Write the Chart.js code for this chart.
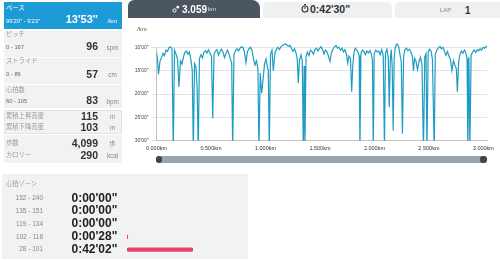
<!DOCTYPE html>
<html lang="ja">
<head>
<meta charset="utf-8">
<script src="https://cdn.jsdelivr.net/npm/chart.js@4/dist/chart.umd.min.js"></script>
<style>
  body { margin: 0; width: 500px; height: 261px; position: relative; overflow: hidden; background: #fff;
         font-family: "Liberation Sans", Arial, "Noto Sans CJK JP", sans-serif; }
  .box { position: absolute; }
  .t { position: absolute; white-space: nowrap; }
  canvas { position: absolute; }
</style>
</head>
<body>
<!-- left summary panel -->
<div class="box" style="left:4px;top:2px;width:118px;height:27px;background:#1d9bd7"></div>
<div class="box" style="left:4px;top:31px;width:118px;height:26px;background:#f1f2f4"></div>
<div class="box" style="left:4px;top:58px;width:118px;height:26px;background:#f1f2f4"></div>
<div class="box" style="left:4px;top:85px;width:118px;height:23px;background:#f1f2f4"></div>
<div class="box" style="left:4px;top:110px;width:116px;height:22px;background:#f1f2f4;border:1px solid #e0e3e7"></div>
<div class="box" style="left:4px;top:135px;width:118px;height:28px;background:#f1f2f4"></div>

<!-- tabs -->
<div class="box" style="left:128px;top:0;width:132px;height:18px;background:#4b5661;border-radius:6px 8px 0 0"></div>
<div class="box" style="left:263px;top:2px;width:129px;height:16px;background:#eef0f2;border-radius:5px 6px 0 0"></div>
<div class="box" style="left:395px;top:2px;width:105px;height:16px;background:#eef0f2;border-radius:5px 0 0 0"></div>
<svg class="box" style="left:172px;top:5px" width="8" height="8" viewBox="0 0 8 8">
  <circle cx="2.5" cy="5.5" r="1.6" fill="none" stroke="#fff" stroke-width="1"/>
  <circle cx="5.8" cy="2.2" r="1.4" fill="#fff"/>
</svg>
<svg class="box" style="left:301px;top:4px" width="8" height="9" viewBox="0 0 8 9">
  <rect x="3" y="0" width="2" height="1.2" fill="#333"/>
  <circle cx="4" cy="5" r="3" fill="none" stroke="#333" stroke-width="1.1"/>
  <line x1="4" y1="5" x2="4" y2="3" stroke="#333" stroke-width="1"/>
</svg>

<!-- heart rate zone panel -->
<div class="box" style="left:2px;top:174px;width:246px;height:85px;background:#f1f2f4"></div>

<canvas id="pace" width="372" height="122" style="left:128px;top:38px"></canvas>

<!-- range slider under the chart -->
<div class="box" style="left:156px;top:156px;width:331px;height:6.5px;background:#9aa4ad;border-radius:3px"></div>
<div class="box" style="left:155.5px;top:156px;width:6.5px;height:6.5px;background:#3d4650;border-radius:50%"></div>
<div class="box" style="left:480px;top:156px;width:6.5px;height:6.5px;background:#3d4650;border-radius:50%"></div>

<canvas id="zones" width="66" height="64" style="left:127px;top:192px"></canvas>

<script>
const distKm = [
  0.000, 0.009, 0.018, 0.032, 0.046, 0.060, 0.073, 0.087, 0.101, 0.115, 0.128, 0.142, 0.154, 0.165, 0.179, 0.193,
  0.206, 0.220, 0.234, 0.248, 0.261, 0.275, 0.289, 0.303, 0.316, 0.328, 0.338, 0.349, 0.362, 0.373, 0.383, 0.394,
  0.408, 0.422, 0.436, 0.450, 0.463, 0.477, 0.491, 0.505, 0.516, 0.528, 0.541, 0.555, 0.569, 0.583, 0.596, 0.610,
  0.624, 0.638, 0.651, 0.665, 0.679, 0.690, 0.699, 0.711, 0.725, 0.739, 0.752, 0.766, 0.780, 0.794, 0.807, 0.821,
  0.835, 0.849, 0.862, 0.876, 0.890, 0.904, 0.917, 0.931, 0.940, 0.952, 0.965, 0.977, 0.991, 1.005, 1.018, 1.026,
  1.035, 1.046, 1.060, 1.072, 1.087, 1.101, 1.115, 1.128, 1.142, 1.156, 1.170, 1.183, 1.197, 1.211, 1.225, 1.239,
  1.252, 1.266, 1.280, 1.292, 1.301, 1.312, 1.326, 1.338, 1.347, 1.355, 1.362, 1.372, 1.385, 1.399, 1.413, 1.427,
  1.440, 1.454, 1.468, 1.482, 1.495, 1.509, 1.523, 1.537, 1.550, 1.564, 1.578, 1.592, 1.606, 1.619, 1.633, 1.647,
  1.661, 1.674, 1.688, 1.702, 1.716, 1.729, 1.743, 1.755, 1.766, 1.780, 1.791, 1.801, 1.812, 1.824, 1.835, 1.849,
  1.860, 1.867, 1.876, 1.890, 1.904, 1.917, 1.931, 1.945, 1.959, 1.972, 1.982, 1.989, 1.998, 2.012, 2.026, 2.040,
  2.053, 2.067, 2.081, 2.092, 2.101, 2.115, 2.127, 2.136, 2.145, 2.154, 2.163, 2.172, 2.181, 2.190, 2.201, 2.210,
  2.222, 2.233, 2.246, 2.257, 2.268, 2.280, 2.293, 2.307, 2.321, 2.335, 2.349, 2.358, 2.369, 2.381, 2.395, 2.408,
  2.422, 2.436, 2.450, 2.462, 2.473, 2.482, 2.493, 2.505, 2.519, 2.532, 2.549, 2.558, 2.573, 2.587, 2.601, 2.615,
  2.628, 2.642, 2.656, 2.670, 2.683, 2.697, 2.711, 2.725, 2.738, 2.752, 2.761, 2.773, 2.784, 2.798, 2.812, 2.826,
  2.839, 2.850, 2.857, 2.867, 2.876, 2.887, 2.901, 2.915, 2.929, 2.943, 2.956, 2.970, 2.984, 2.998, 3.012, 3.026,
  3.033
];
const paceMin = [
  11.0, 12.5, 15.8, 13.0, 12.2, 11.3, 11.8, 10.6, 10.9, 10.1, 9.9, 10.3, 32, 10.6, 11.4, 12.6,
  18.5, 12.9, 13.6, 12.0, 11.1, 10.8, 11.5, 11.0, 12.8, 14.8, 32, 13.5, 14.2, 19.0, 32, 12.4,
  11.6, 12.3, 11.0, 10.7, 11.2, 10.5, 11.3, 12.0, 25.2, 11.5, 10.8, 10.5, 11.7, 10.9, 10.4, 11.0,
  12.2, 11.3, 10.6, 11.4, 12.6, 13.3, 32, 11.6, 10.7, 10.3, 10.8, 10.2, 9.9, 10.1, 11.0, 13.3,
  10.9, 10.3, 10.0, 10.6, 12.4, 13.8, 12.9, 14.6, 32, 15.5, 19.8, 17.2, 13.6, 12.5, 14.2, 15.0,
  32, 11.5, 10.6, 15.0, 11.2, 10.4, 10.0, 10.5, 9.9, 9.6, 9.4, 9.3, 9.5, 9.8, 9.6, 10.2,
  10.9, 10.3, 11.2, 12.5, 17.7, 12.8, 11.6, 13.0, 32, 14.0, 32, 12.0, 11.0, 11.8, 10.6, 10.9,
  11.5, 10.5, 10.2, 10.8, 10.3, 9.9, 10.4, 11.4, 10.6, 10.9, 11.9, 13.0, 11.1, 10.4, 9.9, 9.6,
  10.2, 10.0, 10.6, 10.2, 11.0, 10.5, 11.4, 13.4, 11.9, 12.4, 19.5, 14.0, 11.2, 10.2, 10.5, 11.0,
  11.8, 32, 11.3, 10.6, 10.9, 11.6, 10.8, 11.2, 10.7, 11.5, 12.8, 32, 11.4, 10.6, 11.0, 10.8,
  11.6, 10.5, 11.9, 32, 11.2, 10.4, 12.3, 22.8, 13.0, 10.5, 14.2, 27.8, 12.5, 10.2, 9.4, 9.3,
  9.8, 11.4, 13.0, 28.5, 11.8, 10.5, 10.2, 10.7, 10.4, 11.0, 12.0, 15.0, 12.4, 12.9, 14.8, 13.2,
  12.1, 13.6, 32, 12.0, 11.4, 32, 11.0, 10.4, 10.8, 12.5, 32, 11.6, 10.6, 10.1, 9.8, 10.3,
  10.0, 10.8, 11.7, 10.9, 11.8, 12.6, 15.0, 12.9, 13.8, 14.6, 19.5, 13.2, 11.6, 10.8, 11.3, 10.6,
  11.2, 12.5, 32, 12.0, 32, 11.7, 11.0, 10.6, 11.1, 10.5, 10.8, 10.3, 10.6, 10.0, 10.2, 9.8,
  9.9
];
const xTicks = [0, 0.5, 1.0, 1.5, 2.0, 2.5, 3.0];
const yTicks = [10, 15, 20, 25, 30];

const zoneLabels  = ['152 - 240', '135 - 151', '119 - 134', '102 - 118', '28 - 101'];
const zoneSeconds = [0, 0, 0, 28, 2522];

if (distKm.length !== paceMin.length) {
  throw new Error('length mismatch ' + distKm.length + ' / ' + paceMin.length);
}

const FONT = '"Liberation Sans", Arial, sans-serif';

function text(x, yc, str, size, color, opts = {}) {
  const el = document.createElement('div');
  const h  = size * 1.3;
  el.className        = 't';
  el.textContent      = str;
  el.style.top        = (yc - h / 2) + 'px';
  el.style.height     = h + 'px';
  el.style.lineHeight = h + 'px';
  el.style.fontSize   = size + 'px';
  el.style.color      = color;
  if (opts.bold) el.style.fontWeight = 'bold';
  if (opts.align === 'right') {
    el.style.right = (500 - x) + 'px';
  } else if (opts.align === 'center') {
    el.style.left = (x - 40) + 'px';
    el.style.width = '80px';
    el.style.textAlign = 'center';
  } else {
    el.style.left = x + 'px';
  }
  document.body.appendChild(el);
}

// summary panel
text(6, 8, 'ペース', 6.3, '#fff');
text(6, 22, '99\'20" - 9\'23"', 5.8, '#fff');
text(98, 19.5, '13\'53"', 11, '#fff', { bold: true, align: 'right' });
text(112.5, 21, '/km', 6.2, '#fff', { align: 'center' });

const rows = [
  // label, labelY, range, valueY, value, unit
  ['ピッチ', 34.5, '0 - 167', 47, '96', 'spm'],
  ['ストライド', 61.5, '0 - 86', 74.5, '57', 'cm'],
  ['心拍数', 90, '60 - 105', 101, '83', 'bpm'],
];
rows.forEach(([lab, ly, rng, vy, val, unit]) => {
  text(6, ly, lab, 6.3, '#9a9a9a');
  text(6, vy + 0.5, rng, 5.8, '#666');
  text(98, vy, val, 10.5, '#333', { bold: true, align: 'right' });
  text(112.5, vy + 1, unit, 6.3, '#888', { align: 'center' });
});
[
  ['累積上昇高度', 116.5, '115', 'm'],
  ['累積下降高度', 127.5, '103', 'm'],
  ['歩数', 143, '4,099', '歩'],
  ['カロリー', 155.5, '290', 'kcal'],
].forEach(([lab, y, val, unit]) => {
  text(6, y, lab, 6.3, '#9a9a9a');
  text(98, y + 0.5, val, 10.5, '#333', { bold: true, align: 'right' });
  text(112.5, y + 1, unit, 6.3, '#888', { align: 'center' });
});

// tabs
text(182, 9, '3.059', 10, '#fff', { bold: true });
text(208, 10, 'km', 6, '#dfe3e7');
text(310, 9.5, '0:42\'30"', 10.5, '#333', { bold: true });
text(440, 10.5, 'LAP', 6, '#888');
text(465, 10, '1', 10, '#333', { bold: true });
text(137, 30, '/km', 6, '#555');

text(6, 184, '心拍ゾーン', 6.3, '#9a9a9a');

// pace chart
const paceChart = new Chart(document.getElementById('pace'), {
  type: 'line',
  data: {
    datasets: [{
      data:        distKm.map((d, i) => ({ x: d, y: paceMin[i] })),
      borderColor: '#1f9cc4',
      borderWidth: 1.2,
      pointRadius: 0,
      tension:     0,
      clip:        { left: 0, top: 6, right: 0, bottom: 0 },
    }],
  },
  options: {
    responsive: false,
    animation:  false,
    events:     [],
    layout:     { padding: { top: 9.3, right: 13, left: 0, bottom: 0 } },
    plugins: {
      legend:  { display: false },
      tooltip: { enabled: false },
    },
    scales: {
      x: {
        type: 'linear',
        min:  0,
        max:  distKm[distKm.length - 1],
        afterBuildTicks: s => { s.ticks = xTicks.map(v => ({ value: v })); },
        afterFit:        s => { s.height = 19.3; },
        grid:   { display: false, drawTicks: false },
        border: { color: '#c4c4c4' },
        ticks: {
          padding:     4,
          color:       '#333',
          autoSkip:    false,
          maxRotation: 0,
          font:        { size: 5.5, family: FONT },
          callback:    v => v.toFixed(3) + 'km',
        },
      },
      y: {
        min:     10,
        max:     30,
        reverse: true,
        afterBuildTicks: s => { s.ticks = yTicks.map(v => ({ value: v })); },
        afterFit:        s => { s.width = 28.5; },
        grid:   { color: '#e3e3e3', tickLength: 5 },
        border: { color: '#c4c4c4' },
        ticks: {
          padding:  3,
          color:    '#444',
          font:     { size: 5, family: FONT },
          callback: v => v + '\'00"',
        },
      },
    },
  },
});

// heart rate zones (zero-time zones get no bar)
const zoneChart = new Chart(document.getElementById('zones'), {
  type: 'bar',
  data: {
    labels: zoneLabels,
    datasets: [{
      data:            zoneSeconds.map(v => v || null),
      backgroundColor: '#e8446c',
      barThickness:    3.5,
      borderRadius:    2,
      borderSkipped:   false,
    }],
  },
  options: {
    indexAxis:  'y',
    responsive: false,
    animation:  false,
    events:     [],
    layout:     { padding: 0 },
    plugins: {
      legend:  { display: false },
      tooltip: { enabled: false },
    },
    scales: {
      x: { display: false, min: 0, max: Math.max(...zoneSeconds) },
      y: { display: false },
    },
  },
});

function fmtTime(sec) {
  const h = Math.floor(sec / 3600);
  const m = Math.floor((sec % 3600) / 60);
  const s = sec % 60;
  return h + ':' + String(m).padStart(2, '0') + '\'' + String(s).padStart(2, '0') + '"';
}

zoneLabels.forEach((lab, i) => {
  const y = 192 + zoneChart.scales.y.getPixelForValue(i);
  text(43, y, lab, 6.5, '#888', { align: 'right' });
  text(71.5, y, fmtTime(zoneSeconds[i]), 12, '#222', { bold: true });
});
</script>
</body>
</html>
